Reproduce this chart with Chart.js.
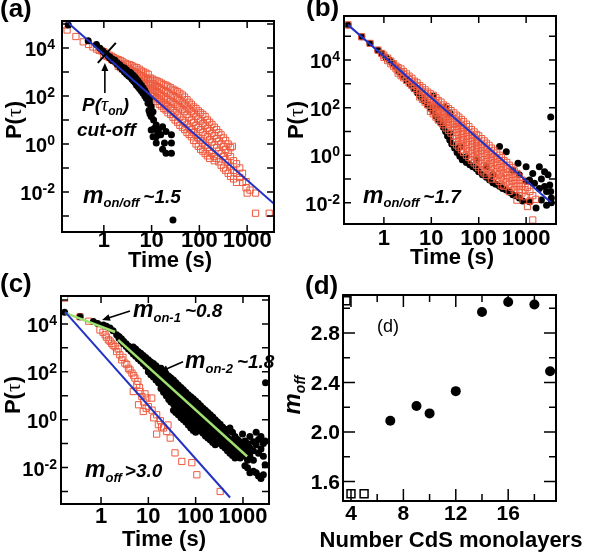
<!DOCTYPE html>
<html>
<head>
<meta charset="utf-8">
<script src="https://cdn.jsdelivr.net/npm/chart.js@4.4.0/dist/chart.umd.min.js"></script>
<style>
  html, body { margin: 0; padding: 0; background: #fff; }
  #wrap { position: relative; width: 600px; height: 555px; overflow: hidden; }
  #wrap canvas { position: absolute; left: 0; top: 0; }
</style>
</head>
<body>
<div id="wrap">
  <canvas id="pa" width="600" height="555"></canvas>
  <canvas id="pb" width="600" height="555"></canvas>
  <canvas id="pc" width="600" height="555"></canvas>
  <canvas id="pd" width="600" height="555"></canvas>
</div>
<script>
// ---- data: [time (s), P(tau) values] columns ----
const aRedCols = [
  [0.15, [9e4]], [0.17, [5.6e4]], [0.26, [3e4]], [0.37, [1.8e4]], [0.48, [1.4e4]], [0.59, [1.1e4]], [0.7, [9e3]], [0.8, [8e3]], [0.9, [7.5e3]],
  [1.0, [7e3, 5e3]], [1.15, [6e3, 4.5e3]], [1.3, [5e3, 4e3]], [1.45, [4.5e3, 3.3e3]], [1.6, [4e3, 3e3]], [1.8, [3.5e3, 2.6e3]],
  [2.0, [3.3e3, 2.3e3, 1.7e3]], [2.25, [3e3, 2e3, 1.5e3]], [2.5, [2.6e3, 1.8e3, 1.3e3]], [2.8, [2.3e3, 1.6e3, 1.1e3]], [3.1, [2.1e3, 1.4e3, 950]],
  [3.5, [2e3, 1.3e3, 850]], [3.9, [1.8e3, 1.1e3, 700]], [4.4, [1.6e3, 1e3, 620]], [4.9, [1.5e3, 900, 540]], [5.5, [1.3e3, 800, 470, 330]],
  [6.1, [1.1e3, 700, 420, 300]], [6.8, [1e3, 620, 380, 250]], [7.6, [900, 550, 330, 200]], [8.5, [800, 480, 280, 170]], [9.5, [560, 380, 230, 140, 100]],
  [10.5, [500, 330, 200, 120, 95]], [11.7, [450, 280, 170, 100, 75]], [13, [420, 250, 150, 85, 60]], [14.5, [380, 220, 130, 75, 45]], [16, [340, 190, 110, 60, 38]],
  [18, [300, 170, 95, 50, 30]], [20, [280, 150, 80, 42, 26]], [22, [250, 130, 70, 36, 20]], [25, [220, 110, 60, 30, 17]], [28, [190, 100, 52, 25, 13]],
  [31, [170, 85, 44, 20, 10]], [35, [150, 75, 38, 16, 8]], [39, [130, 65, 32, 13, 6]], [44, [110, 55, 27, 10, 5]], [49, [90, 45, 22, 8, 4]],
  [55, [70, 35, 17, 6.5, 3]], [61, [55, 28, 13, 5, 2.5]], [68, [45, 22, 10, 4, 2]], [76, [35, 18, 8, 3, 1.4]], [85, [30, 14, 6, 2.3, 1]],
  [95, [24, 11, 5, 1.8, 0.8]], [106, [20, 9, 4, 1.4, 0.6]], [118, [17, 7, 3, 1.1, 0.5]], [132, [14, 6, 2.4, 0.9, 0.4]], [147, [10, 4.5, 2, 0.7, 0.32]],
  [164, [8, 3.5, 1.5, 0.5, 0.25]], [183, [6.5, 2.8, 1.2, 0.4]], [205, [5, 2.2, 0.9, 0.3, 0.2]], [230, [4, 1.7, 0.7, 0.25]], [255, [3, 1.3, 0.5, 0.18]],
  [285, [2.4, 1, 0.4, 0.13]], [320, [1.8, 0.8, 0.3, 0.1]], [355, [1.4, 0.6, 0.22, 0.08]], [400, [1, 0.45, 0.17, 0.06]], [450, [0.7, 0.3, 0.12, 0.045]],
  [490, [0.8]], [520, [0.2, 0.08, 0.035]], [600, [0.15, 0.06, 0.025]], [700, [0.1, 0.04]], [800, [0.06, 0.025]], [950, [0.027, 0.015]],
  [1000, [0.009]], [1150, [0.012]], [1500, [0.009, 0.0013]], [2900, [0.0013]]
];
const aBlackCols = [
  [0.18, [9e4]], [0.47, [2e4]], [0.7, [1.4e4]], [0.83, [9.7e3]], [0.95, [7.5e3]], [1.05, [6e3]], [1.2, [4.8e3]], [1.33, [4.3e3, 3.8e3]],
  [1.5, [3.5e3, 3e3]], [1.7, [3.1e3, 2.7e3]], [1.9, [2.4e3, 2.1e3]], [2.15, [2e3, 1.65e3]], [2.4, [1.6e3, 1.3e3]], [2.7, [1.45e3, 1.2e3, 1e3]],
  [3.0, [1.2e3, 1e3, 800]], [3.3, [1e3, 850, 680]], [3.6, [950, 750, 600]], [3.9, [800, 620, 500]], [4.2, [700, 540, 420]], [4.5, [600, 460, 360]],
  [4.8, [500, 400, 290]], [5.2, [420, 330, 240]], [5.6, [340, 260, 200]], [6.1, [280, 210, 160]], [6.6, [220, 170, 130]], [7.2, [170, 130, 100]],
  [7.7, [130, 100, 80]], [8.4, [95, 70, 50]], [8.8, [25]], [9.0, [70, 50]], [9.2, [18]], [9.8, [36, 14, 3.8]], [10.7, [22, 2]], [11, [10]], [11.5, [4.5]],
  [12.5, [6.2, 2, 1.1]], [13.3, [3.3]], [14, [4]], [15.5, [2.4]], [17, [5.2, 0.6]], [18.6, [1.1]], [20, [3.3, 0.41]], [26, [2.4, 1.1, 0.41]], [28, [6.8e-4]]
];
const aFitT = [0.17, 3650];
const aFitP = [1.2e5, 3.2e-3];

const bRedCols = [
  [0.175, [3e5]], [0.34, [9.5e4]], [0.51, [5e4]], [0.75, [2.6e4]], [0.9, [1.9e4]],
  [1.0, [1.6e4, 1.3e4]], [1.2, [1.2e4, 9.5e3]], [1.4, [9e3, 7e3]], [1.6, [7e3, 5.5e3]], [1.8, [5.5e3, 4.3e3]],
  [2.0, [4.8e3, 3.6e3, 2.8e3]], [2.3, [4.2e3, 3e3, 2.2e3]], [2.6, [3.3e3, 2.4e3, 1.8e3]], [3.0, [2.6e3, 1.9e3, 1.4e3]], [3.4, [2.1e3, 1.5e3, 1.1e3]],
  [3.9, [1.7e3, 1.2e3, 850]], [4.4, [1.3e3, 950, 650]], [5, [1.1e3, 780, 520]], [5.7, [850, 600, 400, 280]], [6.5, [700, 480, 320, 220]],
  [7.4, [560, 380, 250, 170]], [8.4, [450, 300, 200, 130]], [9.6, [380, 250, 160, 100, 70]], [11, [330, 200, 125, 80, 55]], [12.5, [260, 160, 100, 62, 40]],
  [14, [200, 125, 78, 48, 30]], [16, [170, 100, 62, 38, 24]], [18, [130, 80, 50, 30, 19]], [20.5, [110, 65, 40, 24, 14]], [23, [90, 52, 32, 19, 11]],
  [26, [75, 42, 25, 15, 8.5]], [30, [60, 34, 20, 12, 6.5, 3.5]], [34, [48, 27, 16, 9, 5, 2.7]], [38, [40, 22, 13, 7, 4, 2.2]], [43, [32, 18, 10, 5.5, 3, 1.7]],
  [48, [26, 14, 8, 4.5, 2.4, 1.3]], [55, [20, 11, 6.2, 3.5, 1.9, 1]], [62, [16, 9, 5, 2.8, 1.5, 0.8]], [70, [12, 7, 4, 2.2, 1.2, 0.62]], [80, [9.5, 5.5, 3.1, 1.7, 0.9, 0.48]],
  [90, [7.5, 4.4, 2.5, 1.4, 0.72, 0.38]], [100, [6.5, 3.6, 2, 1.1, 0.58, 0.3]], [115, [5, 2.8, 1.55, 0.85, 0.45, 0.22]], [130, [4, 2.2, 1.2, 0.66, 0.35, 0.18]],
  [145, [3.2, 1.8, 1, 0.54, 0.28, 0.14]], [165, [2.6, 1.4, 0.78, 0.42, 0.22]], [185, [2, 1.1, 0.62, 0.33, 0.17, 0.1]], [210, [1.6, 0.88, 0.48, 0.26, 0.13]],
  [240, [1.25, 0.7, 0.38, 0.2, 0.1]], [270, [1, 0.55, 0.3, 0.16, 0.08]], [300, [0.8, 0.44, 0.24, 0.12, 0.056]], [340, [0.6, 0.34, 0.18, 0.1, 0.05]],
  [390, [0.5, 0.27, 0.14, 0.075]], [440, [0.38, 0.2, 0.11, 0.06, 0.03]], [500, [0.3, 0.16, 0.085, 0.045]], [560, [0.22, 0.12, 0.065, 0.035]],
  [640, [0.17, 0.09, 0.05, 0.013]], [720, [0.12, 0.065, 0.035, 0.02]], [820, [0.09, 0.05, 0.026]], [950, [0.065, 0.035, 0.018]],
  [1070, [0.045, 0.007]], [1200, [0.03, 0.012]], [1380, [0.02, 0.0019]], [1600, [0.014]]
];
const bBlackCols = [
  [0.175, [3e5]], [0.34, [9.5e4]], [0.51, [5e4]], [0.75, [2.6e4]], [0.9, [1.9e4]], [1.1, [1.3e4]], [1.3, [1e4]], [1.5, [7.5e3]], [1.8, [5e3]],
  [2.1, [3.2e3]], [2.5, [2.1e3]], [3, [1.4e3]], [3.6, [950]], [4.3, [620]], [5.1, [420]], [6, [290]], [7, [200]], [8.2, [140]], [9.5, [95]],
  [11, [65, 300]], [12.5, [45]], [13, [110]], [14, [32]], [15, [30]], [16, [22]], [18, [15]], [20, [10, 100]], [22, [6.5]], [24.5, [8.3, 4.4, 60]],
  [27, [3]], [31, [2]], [35, [1.3]], [40, [2.3, 0.9]], [45, [0.65]], [55, [0.87, 0.5]], [65, [0.4]], [75, [0.33]], [89, [0.63, 0.27]], [100, [0.2]],
  [120, [0.15]], [145, [0.33, 0.12]], [170, [0.09]], [200, [0.15, 0.07]], [230, [0.06]], [275, [2.3, 0.05]], [320, [0.04]], [382, [1.4, 0.035]],
  [450, [0.028]], [525, [0.24, 0.022]], [600, [0.02]], [675, [0.46]], [720, [0.15, 0.016]], [850, [0.012]], [1000, [0.33, 0.08]],
  [1180, [0.09, 0.011]], [1380, [0.17]], [1500, [0.066]], [1620, [0.006]], [1900, [0.33, 0.04]], [2100, [0.013, 0.1]], [2450, [0.048, 0.2]],
  [2700, [0.008, 0.03]], [2900, [0.15]], [3150, [0.056]], [3300, [40, 0.03]], [3400, [0.016, 0.01]]
];
const bFitT = [0.175, 3450];
const bFitP = [3e5, 0.0098];

const cRedCols = [
  [0.17, [1.2e5]], [0.36, [2e4]], [0.55, [1.3e4]], [0.95, [5600]], [1.1, [4500]], [1.22, [3500]], [1.3, [2800]], [1.43, [2150]],
  [1.55, [1900]], [1.68, [1550]], [1.8, [1300]], [1.98, [1120]], [2.14, [700]], [2.3, [900]], [2.5, [510]], [2.75, [316]], [2.9, [400]],
  [3.2, [230]], [3.5, [200]], [3.8, [140]], [4.1, [120]], [4.5, [89]], [4.8, [15]], [4.9, [70]], [5.2, [55]], [5.7, [29]], [6, [40]],
  [6.2, [4.2]], [6.5, [22]], [6.7, [15]], [7.3, [9.3]], [7.8, [2.2]], [8, [5.5]], [8.5, [12]], [9, [3]], [9.3, [8]], [10, [3.5]],
  [11.8, [8]], [12, [2.5]], [13, [1.2]], [15, [1.6, 0.25]], [16.3, [0.62]], [18, [0.9]], [19, [0.5]], [21, [0.45]], [24.5, [0.32]],
  [26, [0.6]], [29, [0.17]], [36.6, [0.041]], [51, [0.018]], [83, [0.016]], [106, [0.005]], [330, [0.001]]
];
const cBlackCols = [
  [0.17, [3.1e4]], [0.36, [2e4]], [0.69, [1.25e4]], [0.85, [1.05e4]], [1.12, [9e3]], [1.3, [8e3]], [1.55, [6.7e3]], [1.8, [5.2e3]], [2.14, [3.5e3]],
  [2.4, [3e3, 2.5e3]], [2.7, [2.4e3, 1.9e3]], [3.0, [1.9e3, 1.5e3]], [3.4, [1.5e3, 1.15e3]], [3.8, [1.2e3, 900]], [4.3, [1e3, 720]],
  [4.8, [1.1e3, 800, 550]], [5.4, [900, 650, 450]], [6.1, [700, 500, 350]], [6.9, [600, 400, 280]], [7.8, [480, 320, 220]], [8.8, [400, 260, 170]],
  [10, [320, 210, 140, 100]], [11.3, [260, 170, 110, 75]], [12.8, [220, 140, 90, 60]], [14.5, [180, 110, 70, 45]], [16.4, [140, 90, 55, 35]],
  [18.5, [140, 75, 45, 28, 20]], [21, [100, 60, 36, 22, 14]], [24, [80, 48, 28, 17, 10]], [27, [65, 38, 22, 13, 7]], [30, [55, 30, 18, 10, 5.5]],
  [34, [45, 25, 14, 8, 4.5, 2.5]], [38, [36, 20, 11, 6.5, 3.5, 2]], [43, [28, 16, 9, 5, 2.8, 1.6]], [49, [22, 13, 7, 4, 2.2, 1.2]], [55, [18, 10, 5.5, 3.2, 1.8, 1]],
  [62, [14, 8, 4.4, 2.5, 1.4, 0.8]], [70, [11, 6.5, 3.5, 2, 1.1, 0.6]], [79, [9, 5, 2.8, 1.6, 0.85, 0.45]], [89, [7.5, 4, 2.2, 1.2, 0.65, 0.35]],
  [100, [6, 3.3, 1.8, 1, 0.52, 0.3]], [113, [4.8, 2.6, 1.4, 0.8, 0.42]], [127, [3.8, 2.1, 1.15, 0.65, 0.34]], [143, [3, 1.7, 0.9, 0.5, 0.27]],
  [161, [2.5, 1.35, 0.72, 0.4, 0.21]], [181, [2, 1.1, 0.58, 0.32, 0.17]], [204, [1.6, 0.85, 0.46, 0.26, 0.14]], [230, [1.3, 0.7, 0.37, 0.2, 0.11]],
  [260, [1, 0.55, 0.3, 0.16, 0.09]], [290, [0.8, 0.45, 0.24, 0.13]], [330, [0.65, 0.35, 0.19, 0.1]], [370, [0.5, 0.28, 0.15, 0.08]],
  [420, [0.4, 0.22, 0.12, 0.065]], [470, [0.33, 0.18, 0.1, 0.05]], [530, [0.45, 0.15, 0.08, 0.04]], [600, [0.3, 0.12, 0.06, 0.032]],
  [680, [0.2, 0.09, 0.045, 0.025]], [770, [0.15, 0.07, 0.035]], [870, [0.12, 0.05, 0.025]], [980, [0.25, 0.08, 0.04]],
  [1100, [0.13, 0.06, 0.03, 0.012]], [1250, [0.1, 0.04, 0.02, 0.0098]], [1400, [0.2, 0.066, 0.03, 0.006]], [1660, [0.12, 0.05, 0.02, 0.007]],
  [1900, [0.3, 0.09, 0.006]], [2130, [0.15, 0.04, 0.0044]], [2400, [0.2, 0.06, 0.0035]], [2700, [0.1, 0.03, 0.005]], [2940, [0.13, 0.013]], [3000, [35]]
];
const cOffFitT = [0.174, 533];
const cOffFitP = [3.2e4, 5.6e-4];
const cOn1FitT = [0.174, 1.98];
const cOn1FitP = [2.9e4, 4.6e3];
const cOn2FitT = [2.3, 1230];
const cOn2FitP = [2.15e3, 0.029];

const dShells = [7, 9, 10, 12, 14, 16, 18, 19.2];
const dMoff = [2.09, 2.21, 2.15, 2.33, 2.97, 3.05, 3.03, 2.49];
const dOpenShells = [3.62, 4, 5];
const dOpenMoff = [3.06, 1.5, 1.5];

// ---- styling ----
const RED = '#ee5a3e';
const BLUE = '#2233c4';
const GREEN = '#9fe070';
const SANS = '"Liberation Sans", Arial, sans-serif';
const SERIF = '"Liberation Serif", "DejaVu Serif", serif';
const fb = s => `bold ${s}px ${SANS}`;
const fbi = s => `italic bold ${s}px ${SANS}`;
const fser = s => `${s}px ${SERIF}`;
const fseri = s => `italic ${s}px ${SERIF}`;

const cols = list => list.flatMap(([t, ps]) => ps.map(p => ({x: t, y: p})));
const pairs = (xs, ys) => xs.map((x, i) => ({x, y: ys[i]}));

function redSet(data) {
  return {data, pointStyle: 'rect', pointRadius: 4.4, borderColor: RED, backgroundColor: 'rgba(255,255,255,0)', borderWidth: 1, order: 1};
}
function blackSet(data, order) {
  return {data, pointStyle: 'circle', pointRadius: 3.5, borderWidth: 0, backgroundColor: '#000', borderColor: '#000', order: order};
}
function fitSet(data, color, width) {
  return {data, showLine: true, pointRadius: 0, borderColor: color, borderWidth: width, fill: false, order: 0};
}

// draw a row of text pieces [text, font, dy, gapAfter]
function runs(ctx, x, y, parts, align) {
  let w = 0;
  parts.forEach(p => { ctx.font = p[1]; w += ctx.measureText(p[0]).width + (p[3] || 0); });
  let cx = align === 'center' ? x - w / 2 : align === 'right' ? x - w : x;
  ctx.textAlign = 'left';
  ctx.textBaseline = 'alphabetic';
  parts.forEach(p => {
    ctx.font = p[1];
    ctx.fillText(p[0], cx, y + (p[2] || 0));
    cx += ctx.measureText(p[0]).width + (p[3] || 0);
  });
}
function vertical(ctx, x, y, parts) {
  ctx.save();
  ctx.translate(x, y);
  ctx.rotate(-Math.PI / 2);
  runs(ctx, 0, 0, parts, 'center');
  ctx.restore();
}
function arrow(c, from, to) {
  const ctx = c.ctx, sx = c.scales.x, sy = c.scales.y;
  const x1 = sx.getPixelForValue(from[0]), y1 = sy.getPixelForValue(from[1]);
  const x2 = sx.getPixelForValue(to[0]), y2 = sy.getPixelForValue(to[1]);
  const ang = Math.atan2(y2 - y1, x2 - x1);
  ctx.save();
  ctx.strokeStyle = '#000';
  ctx.fillStyle = '#000';
  ctx.lineWidth = 1.6;
  ctx.beginPath();
  ctx.moveTo(x1, y1);
  ctx.lineTo(x2 - 5 * Math.cos(ang), y2 - 5 * Math.sin(ang));
  ctx.stroke();
  ctx.beginPath();
  ctx.moveTo(x2, y2);
  ctx.lineTo(x2 - 8 * Math.cos(ang) + 3.5 * Math.sin(ang), y2 - 8 * Math.sin(ang) - 3.5 * Math.cos(ang));
  ctx.lineTo(x2 - 8 * Math.cos(ang) - 3.5 * Math.sin(ang), y2 - 8 * Math.sin(ang) + 3.5 * Math.cos(ang));
  ctx.closePath();
  ctx.fill();
  ctx.restore();
}

function axes(c, o) {
  const ctx = c.ctx, a = c.chartArea, sx = c.scales.x, sy = c.scales.y;
  ctx.save();
  ctx.strokeStyle = '#000';
  ctx.lineWidth = 1.5;
  ctx.beginPath();
  const tx = (vals, len) => vals.forEach(v => {
    const p = sx.getPixelForValue(v);
    ctx.moveTo(p, a.bottom); ctx.lineTo(p, a.bottom - len);
    ctx.moveTo(p, a.top); ctx.lineTo(p, a.top + len);
  });
  const ty = (vals, len) => vals.forEach(v => {
    const p = sy.getPixelForValue(v);
    ctx.moveTo(a.left, p); ctx.lineTo(a.left + len, p);
    ctx.moveTo(a.right, p); ctx.lineTo(a.right - len, p);
  });
  tx(o.xMajor, o.len);
  ty(o.yMajor, o.len);
  if (o.xMinor) tx(o.xMinor, o.minLen);
  if (o.yMinor) ty(o.yMinor, o.minLen);
  ctx.stroke();
  ctx.lineWidth = 2;
  ctx.strokeRect(a.left, a.top, a.right - a.left, a.bottom - a.top);
  ctx.fillStyle = '#000';
  o.xLabels.forEach(([v, s]) => runs(ctx, sx.getPixelForValue(v), o.xBase, [[s, o.xFont]], 'center'));
  o.yLabels.forEach(([v, parts]) => runs(ctx, a.left - o.yGap, sy.getPixelForValue(v) + o.yDy, parts, 'right'));
  ctx.restore();
}

const decades = (lo, hi) => { const r = []; for (let e = lo; e <= hi; e++) r.push(Math.pow(10, e)); return r; };
const expLabels = exps => exps.map(e => [Math.pow(10, e), [['10', fb(20)], [String(e), fb(14), -7]]]);
const timeLabels = [[1, '1'], [10, '10'], [100, '100'], [1000, '1000']];
const ptau = [['P(', fb(22)], ['\u03c4', fser(22)], [')', fb(22)]];

function panel(id, area, xScale, yScale, datasets, decor) {
  new Chart(document.getElementById(id), {
    type: 'scatter',
    data: {datasets},
    options: {
      responsive: false,
      animation: false,
      devicePixelRatio: 1,
      events: [],
      layout: {padding: {left: area[0], top: area[1], right: 600 - area[2], bottom: 555 - area[3]}},
      plugins: {legend: {display: false}, tooltip: {enabled: false}},
      scales: {
        x: Object.assign({display: false}, xScale),
        y: Object.assign({display: false}, yScale)
      }
    },
    plugins: [{id: 'decor_' + id, afterDraw: c => decor(c)}]
  });
}

// ---- (a) ----
panel('pa', [62, 21, 274, 232],
  {type: 'logarithmic', min: 0.133, max: 3650},
  {type: 'logarithmic', min: 2.15e-4, max: 1.33e5},
  [redSet(cols(aRedCols)), blackSet(cols(aBlackCols), 0.5), fitSet(pairs(aFitT, aFitP), BLUE, 2)],
  c => {
    const ctx = c.ctx;
    axes(c, {xMajor: [1, 10, 100, 1000], yMajor: decades(-3, 5), len: 7,
      xLabels: timeLabels, xBase: 247, xFont: fb(22), yLabels: expLabels([4, 2, 0, -2]), yGap: 7, yDy: 8});
    ctx.fillStyle = '#000';
    runs(ctx, 0, 17, [['(a)', fb(26)]], 'left');
    runs(ctx, 170, 267, [['Time (s)', fb(22)]], 'center');
    vertical(ctx, 21, 120, ptau);
    // cut-off marker
    const px = c.scales.x.getPixelForValue(1.1), py = c.scales.y.getPixelForValue(6.2e3);
    ctx.save();
    ctx.strokeStyle = '#000';
    ctx.lineWidth = 2;
    ctx.beginPath();
    ctx.moveTo(px - 8, py + 10); ctx.lineTo(px + 10, py - 10);
    ctx.moveTo(px - 7, py - 7); ctx.lineTo(px + 7, py + 7);
    ctx.stroke();
    ctx.restore();
    arrow(c, [1.05, 133], [1.05, 2370]);
    runs(ctx, 82, 111, [['P(', fbi(19)], ['\u03c4', fseri(20)], ['on', fbi(12), 4], [')', fbi(19)]], 'left');
    runs(ctx, 77, 136, [['cut-off', fbi(19)]], 'left');
    runs(ctx, 83, 203, [['m', fbi(23)], ['on/off', fbi(13), 4, 4], ['~1.5', fbi(19)]], 'left');
  });

// ---- (b) ----
panel('pb', [344, 16, 556, 224],
  {type: 'logarithmic', min: 0.144, max: 4270},
  {type: 'logarithmic', min: 1.29e-3, max: 7.08e5},
  [blackSet(cols(bBlackCols), 2), redSet(cols(bRedCols)), fitSet(pairs(bFitT, bFitP), BLUE, 2)],
  c => {
    const ctx = c.ctx;
    axes(c, {xMajor: [1, 10, 100, 1000], yMajor: decades(-2, 5), len: 7,
      xLabels: timeLabels, xBase: 245, xFont: fb(22), yLabels: expLabels([4, 2, 0, -2]), yGap: 4, yDy: 8});
    ctx.fillStyle = '#000';
    runs(ctx, 306, 16, [['(b)', fb(26)]], 'left');
    runs(ctx, 452, 264, [['Time (s)', fb(22)]], 'center');
    vertical(ctx, 303, 120, ptau);
    runs(ctx, 363, 203, [['m', fbi(23)], ['on/off', fbi(13), 4, 4], ['~1.7', fbi(19)]], 'left');
  });

// ---- (c) ----
panel('pc', [61, 296, 269, 504],
  {type: 'logarithmic', min: 0.1426, max: 3550},
  {type: 'logarithmic', min: 3.16e-4, max: 1.47e5},
  [redSet(cols(cRedCols)), blackSet(cols(cBlackCols), 0.5),
   fitSet(pairs(cOffFitT, cOffFitP), BLUE, 2), fitSet(pairs(cOn1FitT, cOn1FitP), GREEN, 2.5), fitSet(pairs(cOn2FitT, cOn2FitP), GREEN, 2.5)],
  c => {
    const ctx = c.ctx;
    axes(c, {xMajor: [1, 10, 100, 1000], yMajor: decades(-3, 5), len: 7,
      xLabels: timeLabels, xBase: 523, xFont: fb(22), yLabels: expLabels([4, 2, 0, -2]), yGap: 4, yDy: 8});
    ctx.fillStyle = '#000';
    runs(ctx, 0, 292, [['(c)', fb(26)]], 'left');
    runs(ctx, 164, 546, [['Time (s)', fb(22)]], 'center');
    vertical(ctx, 20, 395, ptau);
    arrow(c, [4.1, 3.5e4], [1.05, 1.47e4]);
    arrow(c, [54, 261], [17.7, 100]);
    runs(ctx, 133, 317, [['m', fbi(23)], ['on-1', fbi(13), 5, 4], ['~0.8', fbi(19)]], 'left');
    runs(ctx, 185, 368, [['m', fbi(23)], ['on-2', fbi(13), 5, 4], ['~1.8', fbi(19)]], 'left');
    runs(ctx, 85, 477, [['m', fbi(23)], ['off', fbi(13), 5, 3], ['>3.0', fbi(19)]], 'left');
  });

// ---- (d) ----
panel('pd', [343, 295, 556, 501],
  {type: 'linear', min: 3.39, max: 19.65},
  {type: 'linear', min: 1.442, max: 3.107},
  [{data: pairs(dShells, dMoff), pointStyle: 'circle', pointRadius: 5, borderWidth: 0, backgroundColor: '#000', order: 1},
   {data: pairs(dOpenShells, dOpenMoff), pointStyle: 'rect', pointRadius: 5.6, borderWidth: 1.5, borderColor: '#000', backgroundColor: '#fff', order: 0}],
  c => {
    const ctx = c.ctx;
    axes(c, {xMajor: [4, 8, 12, 16], xMinor: [6, 10, 14, 18], yMajor: [1.6, 2.0, 2.4, 2.8], yMinor: [1.8, 2.2, 2.6, 3.0], len: 12, minLen: 7,
      xLabels: [[4, '4'], [8, '8'], [12, '12'], [16, '16']], xBase: 520, xFont: fb(21),
      yLabels: [[1.6, [['1.6', fb(21)]]], [2.0, [['2.0', fb(21)]]], [2.4, [['2.4', fb(21)]]], [2.8, [['2.8', fb(21)]]]], yGap: 3, yDy: 7.5});
    ctx.fillStyle = '#000';
    runs(ctx, 305, 294, [['(d)', fb(26)]], 'left');
    runs(ctx, 451, 547, [['Number CdS monolayers', fb(22)]], 'center');
    vertical(ctx, 300, 395, [['m', fbi(24)], ['off', fbi(14), 5]]);
    runs(ctx, 377, 332, [['(d)', '18px ' + SANS]], 'left');
  });
</script>
</body>
</html>
